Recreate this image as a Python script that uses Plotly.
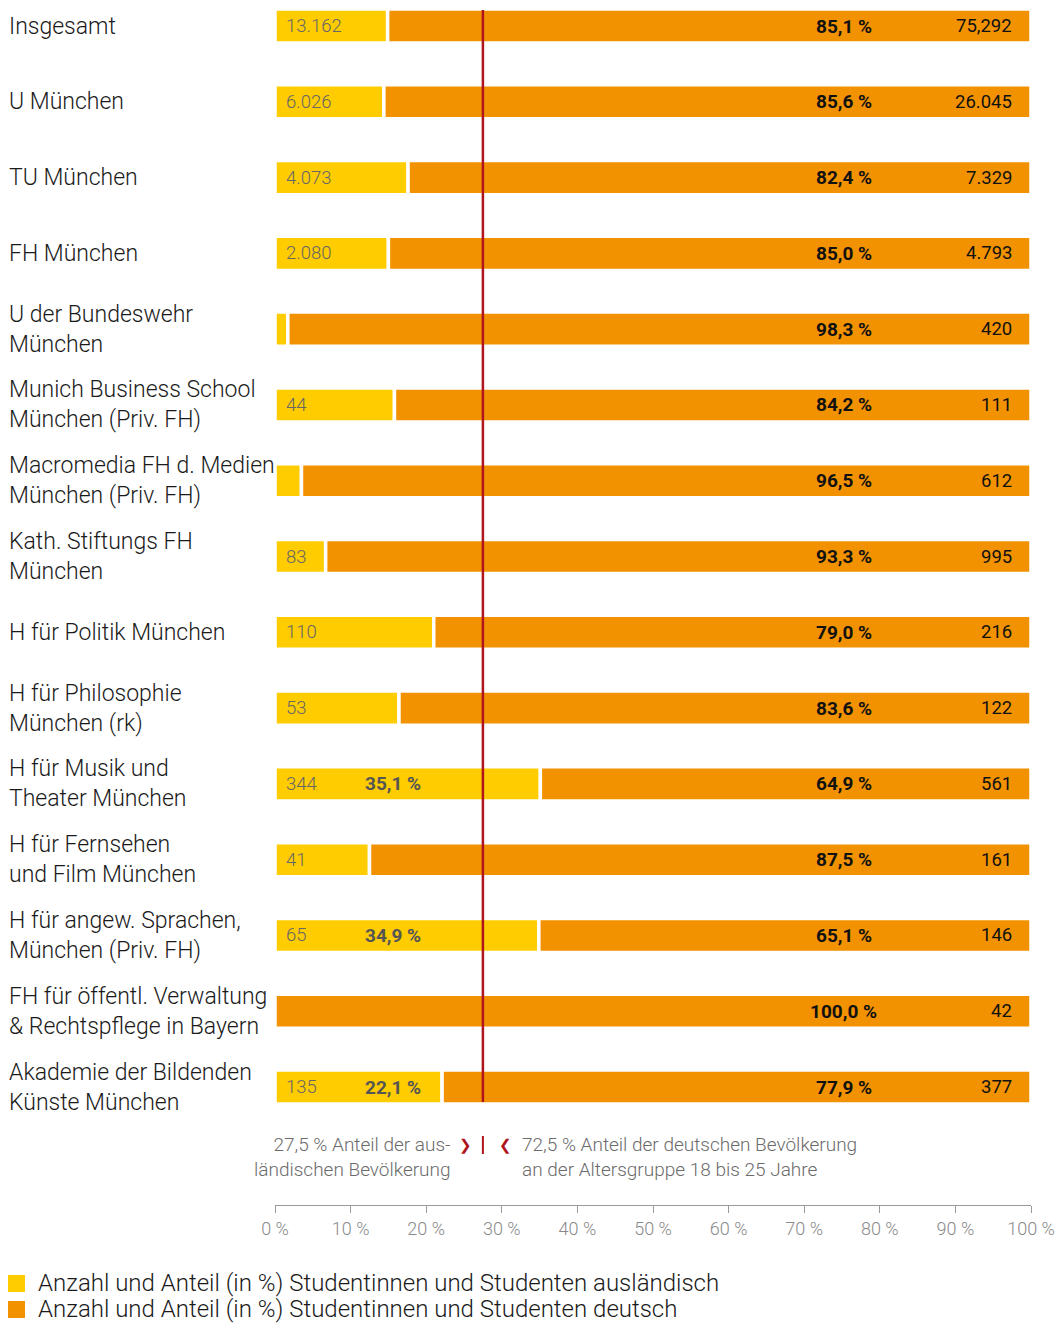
import plotly.graph_objects as go

categories = [
    "Insgesamt", "U München", "TU München", "FH München",
    "U der Bundeswehr<br>München", "Munich Business School<br>München (Priv. FH)",
    "Macromedia FH d. Medien<br>München (Priv. FH)", "Kath. Stiftungs FH<br>München",
    "H für Politik München", "H für Philosophie<br>München (rk)",
    "H für Musik und<br>Theater München", "H für Fernsehen<br>und Film München",
    "H für angew. Sprachen,<br>München (Priv. FH)", "FH für öffentl. Verwaltung<br>& Rechtspflege in Bayern",
    "Akademie der Bildenden<br>Künste München",
]
share_foreign = [14.9, 14.4, 17.6, 15.0, 1.7, 15.8, 3.5, 6.7, 21.0, 16.4, 35.1, 12.5, 34.9, 0.0, 22.1]
share_german = [85.1, 85.6, 82.4, 85.0, 98.3, 84.2, 96.5, 93.3, 79.0, 83.6, 64.9, 87.5, 65.1, 100.0, 77.9]
count_foreign = ["13.162", "6.026", "4.073", "2.080", "", "44", "", "83", "110", "53", "344", "41", "65", "", "135"]
count_german = ["75,292", "26.045", "7.329", "4.793", "420", "111", "612", "995", "216", "122", "561", "161", "146", "42", "377"]
foreign_pct_labels = ["", "", "", "", "", "", "", "", "", "", "35,1 %", "", "34,9 %", "", "22,1 %"]
german_pct_labels = ["85,1 %", "85,6 %", "82,4 %", "85,0 %", "98,3 %", "84,2 %", "96,5 %", "93,3 %",
                     "79,0 %", "83,6 %", "64,9 %", "87,5 %", "65,1 %", "100,0 %", "77,9 %"]
reference_foreign = 27.5
x_ticks = [0, 10, 20, 30, 40, 50, 60, 70, 80, 90, 100]
x_tick_labels = [f"{t} %" for t in x_ticks]
legend_labels = ["Anzahl und Anteil (in %) Studentinnen und Studenten ausländisch",
                 "Anzahl und Anteil (in %) Studentinnen und Studenten deutsch"]

YELLOW = "#FFCC00"
ORANGE = "#F39200"
RED = "#B0141C"
FONT = "Roboto"

W, H = 1056, 1326
ML, MR, MT, MB = 275, 25, 10, 121
PW = W - ML - MR
PH = H - MT - MB
ROW0, ROWSTEP = 26, 75.79


def px_x(px):
    return (px - ML) / PW


def px_y(py):
    return (H - MB - py) / PH


y_top = (MT - ROW0) / ROWSTEP
y_bottom = (H - MB - ROW0) / ROWSTEP

fig = go.Figure()
fig.add_trace(go.Bar(
    y=categories, x=share_foreign, orientation="h", width=0.45,
    marker=dict(color=YELLOW, line=dict(color="white", width=3.5)),
    hoverinfo="skip", showlegend=False,
))
fig.add_trace(go.Bar(
    y=categories, x=share_german, base=share_foreign, orientation="h", width=0.45,
    marker=dict(color=ORANGE, line=dict(color="white", width=3.5)),
    hoverinfo="skip", showlegend=False,
))

annotations = []
for cat, cf, fp, gp, cg in zip(categories, count_foreign, foreign_pct_labels, german_pct_labels, count_german):
    annotations.append(dict(x=px_x(7), xref="paper", y=cat, yref="y", text=cat, showarrow=False,
                            xanchor="left", align="left", yanchor="middle",
                            font=dict(family=FONT, size=23, color="#1a1a1a", weight=300)))
    if cf:
        annotations.append(dict(x=1.2, y=cat, text=cf, showarrow=False, xanchor="left",
                                font=dict(family=FONT, size=18.5, color="#666666", weight=300)))
    if fp:
        annotations.append(dict(x=15.55, y=cat, text=fp, showarrow=False, xanchor="center",
                                font=dict(family=FONT, size=19, color="#555555", weight=700)))
    annotations.append(dict(x=75.25, y=cat, text=gp, showarrow=False, xanchor="center",
                            font=dict(family=FONT, size=19, color="#111111", weight=700)))
    annotations.append(dict(x=97.8, y=cat, text=cg, showarrow=False, xanchor="right",
                            font=dict(family=FONT, size=18.5, color="#111111", weight=400)))

note_font = dict(family=FONT, size=19, color="#6b6b6b", weight=300)
annotations.append(dict(x=23.6, y=px_y(1157), yref="paper", text="27,5 % Anteil der aus-<br>ländischen Bevölkerung",
                        showarrow=False, xanchor="right", align="right", yanchor="middle", font=note_font))
annotations.append(dict(x=32.4, y=px_y(1157), yref="paper",
                        text="72,5 % Anteil der deutschen Bevölkerung<br>an der Altersgruppe 18 bis 25 Jahre",
                        showarrow=False, xanchor="left", align="left", yanchor="middle", font=note_font))
annotations.append(dict(x=25.2, y=px_y(1145), yref="paper", text="❯", showarrow=False, xanchor="center",
                        yanchor="middle", font=dict(family="DejaVu Sans", size=15, color=RED)))
annotations.append(dict(x=30.5, y=px_y(1145), yref="paper", text="❮", showarrow=False, xanchor="center",
                        yanchor="middle", font=dict(family="DejaVu Sans", size=15, color=RED)))

shapes = [
    dict(type="line", xref="x", yref="paper", x0=reference_foreign, x1=reference_foreign,
         y0=px_y(1102), y1=px_y(10), line=dict(color=RED, width=2.5)),
    dict(type="line", xref="x", yref="paper", x0=reference_foreign, x1=reference_foreign,
         y0=px_y(1154), y1=px_y(1136), line=dict(color=RED, width=2)),
]

legend_colors = [YELLOW, ORANGE]
legend_y = [1283, 1309]
for lab, col, ly in zip(legend_labels, legend_colors, legend_y):
    shapes.append(dict(type="rect", xref="paper", yref="paper", x0=px_x(8), x1=px_x(25),
                       y0=px_y(ly + 9), y1=px_y(ly - 8), fillcolor=col, line=dict(width=0)))
    annotations.append(dict(x=px_x(36), xref="paper", y=px_y(ly), yref="paper", text=lab, showarrow=False,
                            xanchor="left", yanchor="middle",
                            font=dict(family=FONT, size=24, color="#1a1a1a", weight=300)))

fig.update_layout(
    width=W, height=H, margin=dict(l=ML, r=MR, t=MT, b=MB, autoexpand=False),
    paper_bgcolor="white", plot_bgcolor="white", barmode="overlay",
    annotations=annotations, shapes=shapes,
    xaxis=dict(range=[0, 100], tickvals=x_ticks, ticktext=x_tick_labels, showgrid=False, zeroline=False,
               showline=True, linecolor="#9a9a9a", linewidth=1, ticks="outside", ticklen=7,
               tickcolor="#9a9a9a", tickfont=dict(family=FONT, size=18, color="#8a8a8a", weight=300),
               fixedrange=True, automargin=False),
    yaxis=dict(range=[y_bottom, y_top], showticklabels=False, showgrid=False, zeroline=False,
               showline=False, ticks="", fixedrange=True, automargin=False),
    font=dict(family=FONT),
)

fig.write_html("out.html", config={"displayModeBar": False},
               post_script="document.body.style.margin='0';document.body.style.overflow='hidden';")
